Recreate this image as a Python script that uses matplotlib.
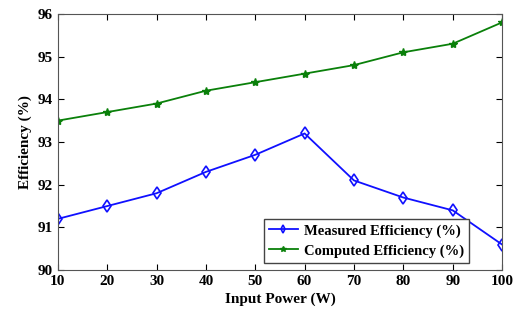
import matplotlib.pyplot as plt

# --------- Données ---------
power = [10, 20, 30, 40, 50, 60, 70, 80, 90, 100]
measured = [91.2, 91.5, 91.8, 92.3, 92.7, 93.2, 92.1, 91.7, 91.4, 90.6]
computed = [93.5, 93.7, 93.9, 94.2, 94.4, 94.6, 94.8, 95.1, 95.3, 95.8]

plt.rcParams['font.family'] = ['Liberation Serif', 'DejaVu Serif']
plt.rcParams['font.weight'] = 'bold'

fig = plt.figure(figsize=(5.16, 3.22), dpi=100)
ax = fig.add_axes([0.112, 0.161, 0.861, 0.796])

ax.plot(power, measured, color='#1010ff', lw=1.3, marker='d', ms=6,
        mfc='none', mew=1.2, label="Measured Efficiency (%)")
ax.plot(power, computed, color='#0a800a', lw=1.3, marker='*', ms=6,
        label="Computed Efficiency (%)")

ax.set_xlim(10, 100)
ax.set_ylim(90, 96)
ax.set_xticks(power)
ax.set_yticks(range(90, 97))
ax.tick_params(direction='in', top=True, right=True, labelsize=11, length=4)
for s in ax.spines.values():
    s.set_color('#555555')

ax.set_xlabel("Input Power (W)", fontsize=11, fontweight='bold', labelpad=3)
ax.set_ylabel("Efficiency (%)", fontsize=11, fontweight='bold')

leg = ax.legend(loc='lower right', fontsize=10.5, fancybox=False, framealpha=1,
                edgecolor='#444444', borderpad=0.35, handlelength=2.0,
                handletextpad=0.4, labelspacing=0.45, markerscale=0.7,
                bbox_to_anchor=(0.942, 0.0))

fig.savefig("out.png", dpi=100)
